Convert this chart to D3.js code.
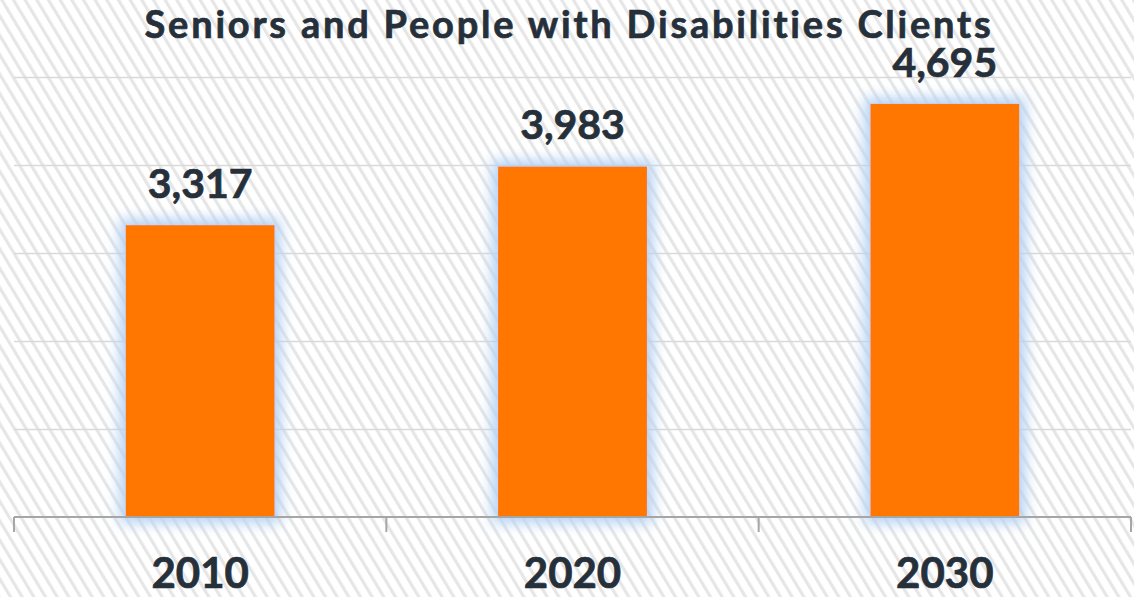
<!DOCTYPE html>
<html>
<head>
<meta charset="utf-8">
<script src="https://cdn.jsdelivr.net/npm/d3@7"></script>
<style>
  html, body { margin: 0; padding: 0; background: #ffffff; }
  svg { display: block; }
  text {
    font-family: Lato, "Open Sans", sans-serif; font-weight: 700;
    fill: #26303b; stroke: #26303b; stroke-width: 0.7px;
    font-variant-ligatures: none; font-feature-settings: "liga" 0, "clig" 0;
  }
</style>
</head>
<body>
<svg id="chart" width="1134" height="597"></svg>
<script>
// Client counts by year
const years = ["2010", "2020", "2030"];
const clients = [3317, 3983, 4695];
const yTicks = [1000, 2000, 3000, 4000, 5000];
const titleText = "Seniors and People with Disabilities Clients";

const W = 1134, H = 597;
const margin = { left: 14, right: 3, top: 77, bottom: 80 };
const plotBottom = H - margin.bottom;

const svg = d3.select("#chart");
const defs = svg.append("defs");

// diagonal hatch background
const pat = defs.append("pattern")
  .attr("id", "hatch")
  .attr("patternUnits", "userSpaceOnUse")
  .attr("width", 10).attr("height", 10)
  .attr("patternTransform", "rotate(-31)");
pat.append("rect").attr("width", 10).attr("height", 10).attr("fill", "#ffffff");
pat.append("rect").attr("x", 0).attr("width", 3.2).attr("height", 10).attr("fill", "#e6e6e6");

svg.append("rect").attr("width", W).attr("height", H).attr("fill", "url(#hatch)");

// soft blue glow around bars
const glow = defs.append("filter").attr("id", "glow")
  .attr("x", "-40%").attr("y", "-40%").attr("width", "180%").attr("height", "180%");
glow.append("feMorphology").attr("in", "SourceAlpha").attr("operator", "dilate").attr("radius", 6).attr("result", "grown");
glow.append("feGaussianBlur").attr("in", "grown").attr("stdDeviation", 7).attr("result", "blur");
glow.append("feFlood").attr("flood-color", "#b3d1f3").attr("flood-opacity", 1);
glow.append("feComposite").attr("in2", "blur").attr("operator", "in").attr("result", "halo");
const merge = glow.append("feMerge");
merge.append("feMergeNode").attr("in", "halo");
merge.append("feMergeNode").attr("in", "SourceGraphic");

const x = d3.scaleBand()
  .domain(years)
  .range([margin.left, W - margin.right])
  .paddingInner(0.6)
  .paddingOuter(0.3);

const xEdges = d3.scaleBand()
  .domain(years)
  .range([margin.left, W - margin.right]);

const y = d3.scaleLinear()
  .domain([0, 5000])
  .range([plotBottom, margin.top]);

// horizontal gridlines
svg.append("g").selectAll("line")
  .data(yTicks)
  .join("line")
  .attr("x1", margin.left).attr("x2", W - margin.right)
  .attr("y1", d => Math.round(y(d)) + 0.5).attr("y2", d => Math.round(y(d)) + 0.5)
  .attr("stroke", "#d9d9d9").attr("stroke-width", 1.6);

// bars
svg.append("g").selectAll("rect")
  .data(years.map((yr, i) => ({ yr, v: clients[i] })))
  .join("rect")
  .attr("x", d => x(d.yr))
  .attr("width", x.bandwidth())
  .attr("y", d => y(d.v))
  .attr("height", d => plotBottom - y(d.v))
  .attr("fill", "#ff7700")
  .attr("filter", "url(#glow)");

// category axis with boundary ticks
const axis = svg.append("g").attr("stroke", "#a6a6a6").attr("stroke-width", 2);
axis.append("line")
  .attr("x1", margin.left).attr("x2", W - margin.right)
  .attr("y1", plotBottom).attr("y2", plotBottom);
const edges = years.map(d => xEdges(d)).concat([W - margin.right]);
axis.selectAll("line.tick")
  .data(edges)
  .join("line")
  .attr("class", "tick")
  .attr("x1", d => d).attr("x2", d => d)
  .attr("y1", plotBottom).attr("y2", plotBottom + 15);

// value labels
const fmt = d3.format(",");
svg.append("g").selectAll("text")
  .data(years.map((yr, i) => ({ yr, v: clients[i] })))
  .join("text")
  .attr("x", d => x(d.yr) + x.bandwidth() / 2)
  .attr("y", d => y(d.v) - 27)
  .attr("text-anchor", "middle")
  .attr("font-size", 41)
  .text(d => fmt(d.v));

// year labels
svg.append("g").selectAll("text")
  .data(years)
  .join("text")
  .attr("x", d => x(d) + x.bandwidth() / 2)
  .attr("y", 588)
  .attr("text-anchor", "middle")
  .attr("font-size", 42)
  .text(d => d);

// title, letter-spaced to span the header
const title = svg.append("text")
  .attr("x", 569)
  .attr("y", 38)
  .attr("text-anchor", "middle")
  .attr("font-size", 38)
  .text(titleText);
const tw = title.node().getComputedTextLength();
title.style("letter-spacing", ((849 - tw) / titleText.length) + "px");
</script>
</body>
</html>
